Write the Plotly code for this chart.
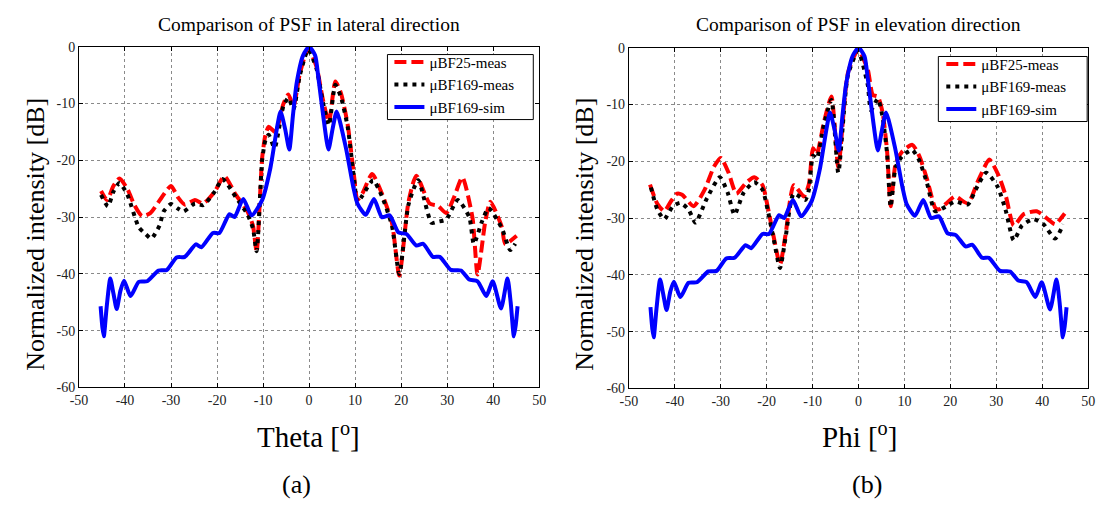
import plotly.graph_objects as go

# ---- data -------------------------------------------------------------
# Lateral direction (theta, degrees) measured with uBF25
lat_bf25_x = [-45.2, -43.9, -42.5, -41.2, -39.5, -38.0, -36.3, -34.5, -32.0, -30.0,
              -28.5, -27.0, -24.8, -23.0, -20.5, -18.4, -15.9, -13.4, -12.2, -11.4,
              -10.2, -9.5, -8.8, -7.3, -5.6, -4.5, -3.4, -2.0, -0.2, 1.6,
              3.0, 4.3, 5.7, 6.9, 8.4, 9.8, 10.5, 11.6, 13.7, 15.8,
              18.0, 19.6, 21.6, 23.3, 26.2, 28.0, 29.8, 31.5, 33.3, 35.5,
              36.6, 38.3, 39.4, 41.9, 42.6, 45.1]
lat_bf25_y = [-25.4, -27.0, -24.5, -23.2, -25.0, -27.8, -29.8, -29.3, -26.5, -24.5,
              -26.5, -27.8, -27.0, -27.6, -25.5, -22.8, -26.1, -29.0, -31.5, -36.1,
              -19.6, -15.6, -14.1, -15.0, -10.1, -8.4, -10.5, -4.7, -0.3, -3.5,
              -9.3, -13.3, -6.1, -8.1, -13.8, -23.0, -27.0, -25.8, -22.4, -25.8,
              -31.0, -40.3, -27.3, -22.7, -27.6, -28.0, -29.3, -26.5, -23.0, -30.1,
              -40.1, -30.7, -27.3, -31.8, -34.7, -33.3]

# Lateral direction measured with uBF169
lat_bf169_x = [-45.2, -43.7, -42.5, -41.2, -39.5, -37.0, -35.5, -34.3, -32.5, -31.6,
               -30.0, -28.5, -27.3, -24.8, -23.0, -20.5, -18.8, -15.9, -13.4, -12.2,
               -11.4, -10.2, -9.5, -8.8, -7.5, -5.6, -4.5, -3.4, -2.0, -0.2,
               1.6, 3.0, 4.3, 5.7, 6.9, 8.4, 9.8, 10.5, 11.6, 13.9,
               15.8, 18.0, 19.6, 21.6, 23.7, 26.6, 28.0, 29.8, 32.3, 34.8,
               35.8, 37.6, 39.0, 41.9, 43.7, 44.8]
lat_bf169_y = [-26.1, -28.1, -25.5, -24.0, -26.0, -31.8, -33.0, -33.8, -31.5, -29.0,
               -27.7, -28.5, -29.0, -27.6, -27.9, -25.5, -23.3, -26.5, -29.5, -32.0,
               -36.0, -20.0, -16.5, -15.5, -17.8, -10.5, -9.0, -11.0, -5.0, -0.5,
               -3.8, -9.8, -13.8, -6.7, -8.8, -14.2, -23.5, -27.3, -26.2, -23.5,
               -26.3, -31.5, -40.0, -27.8, -23.5, -31.0, -30.8, -30.4, -27.0, -30.0,
               -34.7, -30.7, -28.4, -32.0, -35.8, -34.7]

# Simulated uBF169 response (same angular profile in both planes)
sim_x = [-45.3, -44.9, -44.6, -44.0, -43.2, -42.5, -41.8, -41.0, -40.2, -38.8,
         -37.0, -35.2, -32.7, -30.9, -28.8, -27.0, -24.6, -23.4, -20.9, -19.5,
         -17.3, -16.2, -14.3, -12.5, -10.2, -8.4, -7.0, -6.2, -5.2, -4.3,
         -3.5, -2.7, -1.3, 0.0, 1.3, 2.0, 3.2, 4.2, 5.1, 6.0,
         8.0, 9.6, 10.5, 12.3, 14.1, 15.8, 17.5, 19.4, 21.2, 23.3,
         24.8, 26.9, 28.4, 30.8, 33.0, 34.8, 36.6, 38.5, 39.9, 41.7,
         43.1, 43.8, 44.5, 44.9, 45.3]
sim_y = [-45.7, -49.5, -51.0, -46.0, -40.8, -43.5, -46.2, -43.0, -41.2, -43.9,
         -41.4, -41.3, -39.4, -39.3, -37.1, -37.0, -34.8, -35.3, -32.8, -32.8,
         -29.5, -30.0, -26.8, -29.7, -27.0, -21.3, -14.4, -11.4, -14.5, -18.1,
         -12.0, -6.4, -1.5, 0.0, -1.5, -5.3, -13.0, -18.1, -14.5, -11.4,
         -17.8, -24.7, -27.6, -29.6, -26.8, -30.0, -29.7, -32.7, -33.0, -35.0,
         -34.7, -37.0, -37.0, -39.3, -39.4, -41.0, -41.3, -43.9, -41.3, -46.1,
         -40.8, -45.0, -51.0, -49.0, -45.7]

# Elevation direction (phi, degrees) measured with uBF25
ele_bf25_x = [-45.4, -43.8, -42.3, -40.8, -39.5, -38.4, -35.9, -33.5, -31.5, -30.0,
              -28.3, -26.6, -24.5, -22.7, -20.9, -19.8, -18.4, -17.1, -15.9, -14.1,
              -11.9, -10.8, -9.9, -9.1, -7.5, -5.9, -4.4, -2.3, -0.1, 2.0,
              3.1, 4.2, 5.2, 6.2, 7.0, 8.1, 9.5, 11.7, 13.2, 14.9,
              16.7, 17.4, 19.0, 21.0, 23.8, 26.0, 28.5, 30.5, 32.1, 33.8,
              36.0, 38.8, 41.7, 42.8, 44.9]
ele_bf25_y = [-24.1, -27.5, -28.8, -27.0, -25.7, -25.9, -27.9, -25.0, -21.0, -19.4,
              -22.0, -25.7, -23.8, -22.8, -24.2, -27.9, -33.6, -38.2, -33.0, -24.2,
              -26.2, -24.0, -17.7, -18.8, -13.0, -8.6, -21.0, -4.4, -0.4, -3.8,
              -8.3, -8.6, -11.2, -18.0, -27.9, -20.3, -18.3, -17.1, -19.0, -23.1,
              -28.2, -28.5, -27.5, -26.2, -27.4, -23.5, -19.7, -22.5, -26.2, -31.3,
              -29.3, -28.8, -30.5, -31.1, -29.2]

# Elevation direction measured with uBF169
ele_bf169_x = [-45.2, -43.8, -42.3, -40.5, -38.8, -37.0, -35.5, -33.0, -30.2, -28.5,
               -27.0, -25.0, -22.7, -20.9, -19.8, -18.4, -17.1, -15.9, -14.1, -11.6,
               -10.8, -9.9, -9.1, -7.5, -5.9, -4.4, -2.3, -0.1, 2.0, 2.7,
               4.2, 5.2, 6.2, 7.0, 8.1, 9.5, 11.7, 13.2, 14.9, 16.7,
               19.0, 21.0, 23.8, 25.5, 27.8, 30.3, 32.0, 33.8, 35.6, 38.1,
               40.3, 42.8, 44.6]
ele_bf169_y = [-24.6, -28.5, -30.2, -28.0, -27.3, -28.5, -30.8, -26.5, -22.8, -25.5,
               -29.4, -25.5, -23.7, -25.0, -28.5, -34.0, -38.8, -33.5, -25.7, -26.8,
               -25.0, -19.0, -19.5, -13.5, -9.2, -22.0, -4.8, -0.6, -6.5, -11.0,
               -9.0, -12.0, -18.5, -28.0, -21.0, -19.1, -18.0, -19.8, -23.8, -28.8,
               -28.0, -27.1, -27.6, -25.0, -22.0, -24.5, -28.5, -33.9, -31.3, -30.2,
               -31.1, -33.6, -31.1]

series_names = ["\u03bcBF25-meas", "\u03bcBF169-meas", "\u03bcBF169-sim"]
x_ticks = [-50, -40, -30, -20, -10, 0, 10, 20, 30, 40, 50]
y_ticks = [-60, -50, -40, -30, -20, -10, 0]

# ---- styling ----------------------------------------------------------
W, H = 1105, 508
SERIF = "Liberation Serif"
RED = dict(color="#ff0000", width=4, dash="12px,5px", shape="spline", smoothing=0.6)
BLACK = dict(color="#000000", width=4, dash="4px,5px", shape="spline", smoothing=0.6)
BLUE = dict(color="#0000ff", width=4, shape="spline", smoothing=0.6)

fig = go.Figure()

panels = [
    ("x", "y", "legend", lat_bf25_x, lat_bf25_y, lat_bf169_x, lat_bf169_y),
    ("x2", "y2", "legend2", ele_bf25_x, ele_bf25_y, ele_bf169_x, ele_bf169_y),
]
for xa, ya, lg, ax, ay, bx, by in panels:
    fig.add_trace(go.Scatter(x=ax, y=ay, mode="lines", line=RED, name=series_names[0],
                             xaxis=xa, yaxis=ya, legend=lg))
    fig.add_trace(go.Scatter(x=bx, y=by, mode="lines", line=BLACK, name=series_names[1],
                             xaxis=xa, yaxis=ya, legend=lg))
    fig.add_trace(go.Scatter(x=sim_x, y=sim_y, mode="lines", line=BLUE, name=series_names[2],
                             xaxis=xa, yaxis=ya, legend=lg))


def px_x(p):
    return p / W


def px_y(p):
    return 1 - p / H


axis_common = dict(
    showline=True, linecolor="black", linewidth=1, mirror="ticks",
    ticks="inside", ticklen=4, tickcolor="black",
    showgrid=True, gridcolor="#8a8a8a", griddash="dot", gridwidth=1,
    zeroline=False, tickfont=dict(family=SERIF, size=14, color="#222"),
)
x_common = dict(axis_common, range=[-50, 50], tickvals=x_ticks,
                ticktext=[str(v) for v in x_ticks])
y_common = dict(axis_common, range=[-60, 0], tickvals=y_ticks,
                ticktext=[str(v) for v in y_ticks])

# legend entries float on a framed white box drawn as a shape
legend_common = dict(
    xanchor="left", yanchor="top", bgcolor="rgba(0,0,0,0)",
    borderwidth=0, font=dict(family=SERIF, size=15, color="black"),
    tracegroupgap=0, itemwidth=30,
)
legend_boxes = [(384, 49, 532, 116), (943, 51, 1094, 118)]

fig.update_layout(
    width=W, height=H, margin=dict(l=0, r=0, t=0, b=0),
    paper_bgcolor="white", plot_bgcolor="white",
    font=dict(family=SERIF, color="black"),
    showlegend=True,
    xaxis=dict(x_common, domain=[px_x(71), px_x(538)], anchor="y"),
    yaxis=dict(y_common, domain=[px_y(392), px_y(41)], anchor="x"),
    xaxis2=dict(x_common, domain=[px_x(629), px_x(1095)], anchor="y2"),
    yaxis2=dict(y_common, domain=[px_y(393), px_y(42)], anchor="x2"),
    legend=dict(legend_common, x=px_x(386), y=px_y(40)),
    legend2=dict(legend_common, x=px_x(946), y=px_y(42)),
)

for x0, y0, x1, y1 in legend_boxes:
    fig.add_shape(type="rect", xref="paper", yref="paper",
                  x0=px_x(x0), x1=px_x(x1), y0=px_y(y1), y1=px_y(y0),
                  line=dict(color="black", width=1), fillcolor="white", layer="above")

texts = [
    ("Comparison of PSF in lateral direction", 304, 18, 19.5),
    ("Comparison of PSF in elevation direction", 862, 18, 19.5),
    ("Theta [<sup>o</sup>]", 304, 441, 29),
    ("Phi [<sup>o</sup>]", 863, 441, 29),
    ("(a)", 292, 492, 26),
    ("(b)", 871, 492, 26),
]
for txt, cx, cy, size in texts:
    fig.add_annotation(text=txt, x=px_x(cx), y=px_y(cy), xref="paper", yref="paper",
                       xanchor="center", yanchor="middle", showarrow=False,
                       font=dict(family=SERIF, size=size, color="black"))

for cx in (26, 584):
    fig.add_annotation(text="Normalized intensity [dB]", x=px_x(cx), y=px_y(234),
                       xref="paper", yref="paper", xanchor="center", yanchor="middle",
                       textangle=-90, showarrow=False,
                       font=dict(family=SERIF, size=26, color="black"))

fig.write_html("out.html")
